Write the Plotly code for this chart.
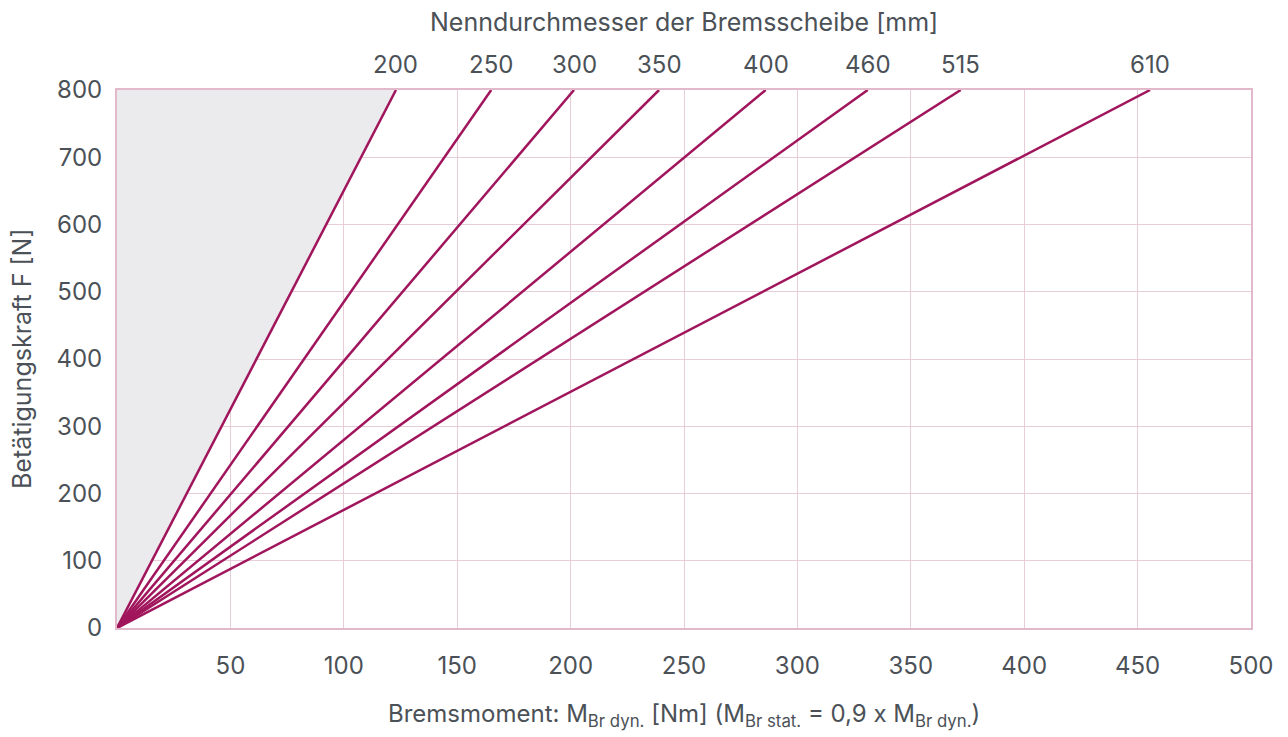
import plotly.graph_objects as go

diameters = ["200", "250", "300", "350", "400", "460", "515", "610"]
torque_at_800 = [123, 165, 201.5, 239, 286, 331, 372, 455.5]
force_max = 800
x_ticks = [50, 100, 150, 200, 250, 300, 350, 400, 450, 500]
y_ticks = [0, 100, 200, 300, 400, 500, 600, 700, 800]

LINE = "#a0155c"
GRID = "#e6cdd8"
TEXT = "#4b5157"
FONT = "Inter"

fig = go.Figure()

# grey shaded region left of the 200 mm line
fig.add_trace(go.Scatter(
    x=[0, torque_at_800[0], 0, 0], y=[0, force_max, force_max, 0],
    mode="lines", fill="toself", fillcolor="#ebebed",
    line=dict(width=0), hoverinfo="skip", showlegend=False))

for d, t in zip(diameters, torque_at_800):
    fig.add_trace(go.Scatter(
        x=[0, t], y=[0, force_max], mode="lines",
        line=dict(color=LINE, width=2.5), name=d, showlegend=False))
    fig.add_annotation(x=t, y=force_max, xref="x", yref="y", text=d,
                       showarrow=False, yanchor="middle", yshift=26,
                       font=dict(family=FONT, size=24, color=TEXT))

fig.add_annotation(x=0.5, y=1, xref="paper", yref="paper", yshift=68,
                   yanchor="middle", showarrow=False,
                   text="Nenndurchmesser der Bremsscheibe [mm]",
                   font=dict(family=FONT, size=25, color=TEXT))

fig.add_annotation(x=0.5, y=0, xref="paper", yref="paper", yshift=-87,
                   yanchor="middle", showarrow=False,
                   text="Bremsmoment: M<sub>Br dyn.</sub> [Nm] (M<sub>Br stat.</sub> = 0,9 x M<sub>Br dyn.</sub>)",
                   font=dict(family=FONT, size=24, color=TEXT))

fig.add_annotation(x=0, y=0.5, xref="paper", yref="paper", xshift=-95,
                   xanchor="center", yanchor="middle", showarrow=False,
                   textangle=-90, text="Betätigungskraft F [N]",
                   font=dict(family=FONT, size=25, color=TEXT))

fig.update_layout(
    width=1288, height=737,
    margin=dict(l=109, r=45, t=82, b=117),
    plot_bgcolor="white", paper_bgcolor="white",
    font=dict(family=FONT, color=TEXT, size=24),
    xaxis=dict(range=[0, 500], tickvals=x_ticks, showgrid=True, gridcolor=GRID,
               gridwidth=1, zeroline=False, showline=True, linecolor="#e2b9ca",
               linewidth=2, mirror=True, ticks="", ticklabelstandoff=15,
               tickfont=dict(size=24, color=TEXT)),
    yaxis=dict(range=[0, 800], tickvals=y_ticks, showgrid=True, gridcolor=GRID,
               gridwidth=1, zeroline=False, showline=True, linecolor="#e2b9ca",
               linewidth=2, mirror=True, ticks="", ticklabelstandoff=8,
               tickfont=dict(size=24, color=TEXT)),
)

fig.write_html("out.html")
